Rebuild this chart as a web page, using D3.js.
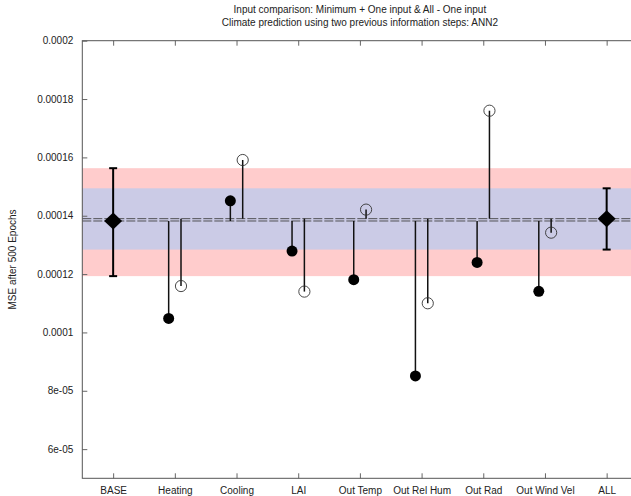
<!DOCTYPE html>
<html>
<head>
<meta charset="utf-8">
<script src="https://cdn.jsdelivr.net/npm/d3@7"></script>
<style>
  html, body { margin: 0; padding: 0; background: #fff; overflow: hidden; }
  svg { display: block; font-family: "Liberation Sans", Arial, sans-serif; }
</style>
</head>
<body>
<svg id="chart" width="631" height="496"></svg>
<script>
// Categories along the x axis
const categories = ["BASE", "Heating", "Cooling", "LAI", "Out Temp", "Out Rel Hum", "Out Rad", "Out Wind Vel", "ALL"];

// Reference runs with their min/max range
const baseValue = 0.0001382;
const baseRange = [0.0001193, 0.0001563];
const allValue = 0.0001390;
const allRange = [0.0001284, 0.0001494];

// Single-input experiments (Heating .. Out Wind Vel)
const inputNames = ["Heating", "Cooling", "LAI", "Out Temp", "Out Rel Hum", "Out Rad", "Out Wind Vel"];
const minPlusOne = [0.0001048, 0.0001451, 0.0001279, 0.0001181, 0.0000851, 0.0001240, 0.0001141];
const allMinusOne = [0.0001159, 0.0001591, 0.0001140, 0.0001421, 0.0001100, 0.0001760, 0.0001342];

// Y axis ticks and their labels
const yTickValues = [0.00006, 0.00008, 0.0001, 0.00012, 0.00014, 0.00016, 0.00018, 0.0002];
const yTickLabels = ["6e-05", "8e-05", "0.0001", "0.00012", "0.00014", "0.00016", "0.00018", "0.0002"];

const titleLines = [
  "Input comparison: Minimum + One input & All - One input",
  "Climate prediction using two previous information steps: ANN2"
];
const yLabel = "MSE after 500 Epochs";

const svg = d3.select("#chart");
const plotLeft = 82.3, plotRight = 637.5, plotTop = 40.7, plotBottom = 478.3;

const x = d3.scaleLinear().domain([0.5, categories.length + 0.5]).range([plotLeft, plotRight]);
const y = d3.scaleLinear().domain([0.00005, 0.0002]).range([plotBottom, plotTop]);
const pos = name => categories.indexOf(name) + 1;
const offset = 0.1;

// Range bands: BASE range in pink, ALL range in lavender on top
svg.append("rect")
  .attr("x", plotLeft).attr("width", plotRight - plotLeft)
  .attr("y", y(baseRange[1])).attr("height", y(baseRange[0]) - y(baseRange[1]))
  .attr("fill", "#ffcccc");
svg.append("rect")
  .attr("x", plotLeft).attr("width", plotRight - plotLeft)
  .attr("y", y(allRange[1])).attr("height", y(allRange[0]) - y(allRange[1]))
  .attr("fill", "#cbcbe6");

// Dashed reference lines for BASE and ALL
[baseValue, allValue].forEach(v => {
  svg.append("line")
    .attr("x1", plotLeft).attr("x2", plotRight)
    .attr("y1", y(v)).attr("y2", y(v))
    .attr("stroke", "#444").attr("stroke-width", 0.9)
    .attr("stroke-dasharray", "9,2");
});

// Axes (inward ticks on all four sides)
const tickColor = "#666";
const yAxis = d3.axisLeft(y).tickValues(yTickValues).tickSize(-5)
  .tickFormat((d, i) => yTickLabels[i]);
const gy = svg.append("g").attr("transform", `translate(${plotLeft},0)`).call(yAxis);
gy.select(".domain").remove();
gy.selectAll(".tick line").attr("stroke", tickColor);
gy.selectAll(".tick text").attr("x", -9).attr("font-size", 10).attr("fill", "#222")
  .attr("font-family", "Liberation Sans, Arial, sans-serif");

const gyr = svg.append("g").attr("transform", `translate(${plotRight},0)`)
  .call(d3.axisRight(y).tickValues(yTickValues).tickSize(-5).tickFormat(""));
gyr.select(".domain").remove();
gyr.selectAll(".tick line").attr("stroke", tickColor);

const xAxis = d3.axisBottom(x).tickValues(d3.range(1, categories.length + 1))
  .tickSize(-5).tickFormat(d => categories[d - 1]);
const gx = svg.append("g").attr("transform", `translate(0,${plotBottom})`).call(xAxis);
gx.select(".domain").remove();
gx.selectAll(".tick line").attr("stroke", tickColor);
gx.selectAll(".tick text").attr("y", 9).attr("font-size", 10).attr("fill", "#222")
  .attr("font-family", "Liberation Sans, Arial, sans-serif");

const gxt = svg.append("g").attr("transform", `translate(0,${plotTop})`)
  .call(d3.axisTop(x).tickValues(d3.range(1, categories.length + 1)).tickSize(-5).tickFormat(""));
gxt.select(".domain").remove();
gxt.selectAll(".tick line").attr("stroke", tickColor);

// Frame
svg.append("rect")
  .attr("x", plotLeft).attr("y", plotTop)
  .attr("width", plotRight - plotLeft).attr("height", plotBottom - plotTop)
  .attr("fill", "none").attr("stroke", "#555").attr("stroke-width", 1);

// Stems for the single-input runs
inputNames.forEach((name, i) => {
  const cx = pos(name);
  // Minimum + one input: hangs from the BASE line
  svg.append("line")
    .attr("x1", x(cx - offset)).attr("x2", x(cx - offset))
    .attr("y1", y(baseValue)).attr("y2", y(minPlusOne[i]))
    .attr("stroke", "#111").attr("stroke-width", 1.5);
  // All - one input: hangs from the ALL line
  svg.append("line")
    .attr("x1", x(cx + offset)).attr("x2", x(cx + offset))
    .attr("y1", y(allValue)).attr("y2", y(allMinusOne[i]))
    .attr("stroke", "#111").attr("stroke-width", 1.5);
});

svg.selectAll("circle.filled").data(minPlusOne).join("circle")
  .attr("class", "filled")
  .attr("cx", (d, i) => x(pos(inputNames[i]) - offset))
  .attr("cy", d => y(d))
  .attr("r", 5.5).attr("fill", "#000");

svg.selectAll("circle.open").data(allMinusOne).join("circle")
  .attr("class", "open")
  .attr("cx", (d, i) => x(pos(inputNames[i]) + offset))
  .attr("cy", d => y(d))
  .attr("r", 5.6).attr("fill", "none").attr("stroke", "#333").attr("stroke-width", 0.9);

// BASE and ALL with their range bars and diamond markers
const refs = [
  { name: "BASE", value: baseValue, range: baseRange },
  { name: "ALL", value: allValue, range: allRange }
];
refs.forEach(r => {
  const cx = x(pos(r.name));
  svg.append("line").attr("x1", cx).attr("x2", cx)
    .attr("y1", y(r.range[0])).attr("y2", y(r.range[1]))
    .attr("stroke", "#000").attr("stroke-width", 2);
  r.range.forEach(v => {
    svg.append("line").attr("x1", cx - 4).attr("x2", cx + 4)
      .attr("y1", y(v)).attr("y2", y(v))
      .attr("stroke", "#000").attr("stroke-width", 2);
  });
  const cy = y(r.value);
  svg.append("path")
    .attr("d", `M${cx - 9},${cy} L${cx},${cy - 8.5} L${cx + 9},${cy} L${cx},${cy + 8.5} Z`)
    .attr("fill", "#000");
});

// Titles
svg.selectAll("text.title").data(titleLines).join("text")
  .attr("class", "title")
  .attr("x", (plotLeft + plotRight) / 2)
  .attr("y", (d, i) => 13 + i * 13)
  .attr("text-anchor", "middle")
  .attr("font-size", 10).attr("fill", "#222")
  .text(d => d);

// Y axis label
svg.append("text")
  .attr("transform", `translate(16,${(plotTop + plotBottom) / 2}) rotate(-90)`)
  .attr("text-anchor", "middle")
  .attr("font-size", 10).attr("fill", "#222")
  .text(yLabel);
</script>
</body>
</html>
